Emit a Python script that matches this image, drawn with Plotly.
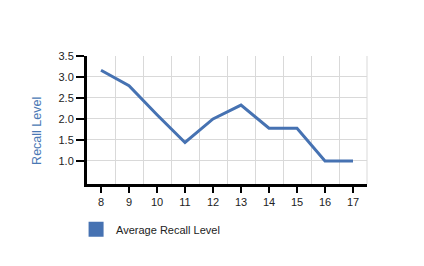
import plotly.graph_objects as go

ages = [8, 9, 10, 11, 12, 13, 14, 15, 16, 17]
recall = [3.16, 2.79, 2.1, 1.44, 2.0, 2.33, 1.78, 1.78, 1.0, 1.0]
series_name = "Average Recall Level"
y_title = "Recall Level"
y_ticks = [1.0, 1.5, 2.0, 2.5, 3.0, 3.5]

blue = "#4672b2"
font = "Liberation Sans, Arial, sans-serif"

fig = go.Figure()
fig.add_trace(go.Scatter(x=ages, y=recall, mode="lines",
                         line=dict(color=blue, width=3),
                         showlegend=False, hoverinfo="skip"))
fig.add_trace(go.Scatter(x=[None], y=[None], mode="markers", name=series_name,
                         marker=dict(symbol="square", size=15, color=blue,
                                     line=dict(width=0))))

fig.update_layout(
    width=424, height=266,
    margin=dict(l=87, r=57, t=56, b=82),
    paper_bgcolor="white", plot_bgcolor="white",
    font=dict(family=font, size=11, color="#222222"),
    showlegend=True,
    legend=dict(x=-0.039, y=-0.24, xanchor="left", yanchor="top",
                font=dict(size=11, color="#222222"), bgcolor="rgba(0,0,0,0)"),
    xaxis=dict(range=[7.5, 17.5], tickmode="array", tickvals=ages,
               showgrid=False, showline=True, linecolor="black", linewidth=3,
               ticks="outside", ticklen=6, tickwidth=2, tickcolor="black",
               zeroline=False, fixedrange=True,
               minor=dict(tick0=7.5, dtick=1, showgrid=True,
                          gridcolor="#d9d9d9", gridwidth=1, ticks="")),
    yaxis=dict(range=[0.45, 3.5], tickmode="array", tickvals=y_ticks,
               tickformat=".1f", showgrid=True, gridcolor="#d9d9d9",
               showline=True, linecolor="black", linewidth=3,
               ticks="outside", ticklen=8, tickwidth=2, tickcolor="black",
               zeroline=False, fixedrange=True),
    shapes=[dict(type="line", xref="paper", yref="paper", x0=1, x1=1, y0=0, y1=1,
                 line=dict(color="#d9d9d9", width=1), layer="below")],
    annotations=[dict(text=y_title, xref="paper", yref="paper",
                      x=-0.179, y=0.414, xanchor="center", yanchor="middle",
                      textangle=-90, showarrow=False,
                      font=dict(size=12.5, color="#4a78b4", family=font))],
)

fig.write_html("out.html")
